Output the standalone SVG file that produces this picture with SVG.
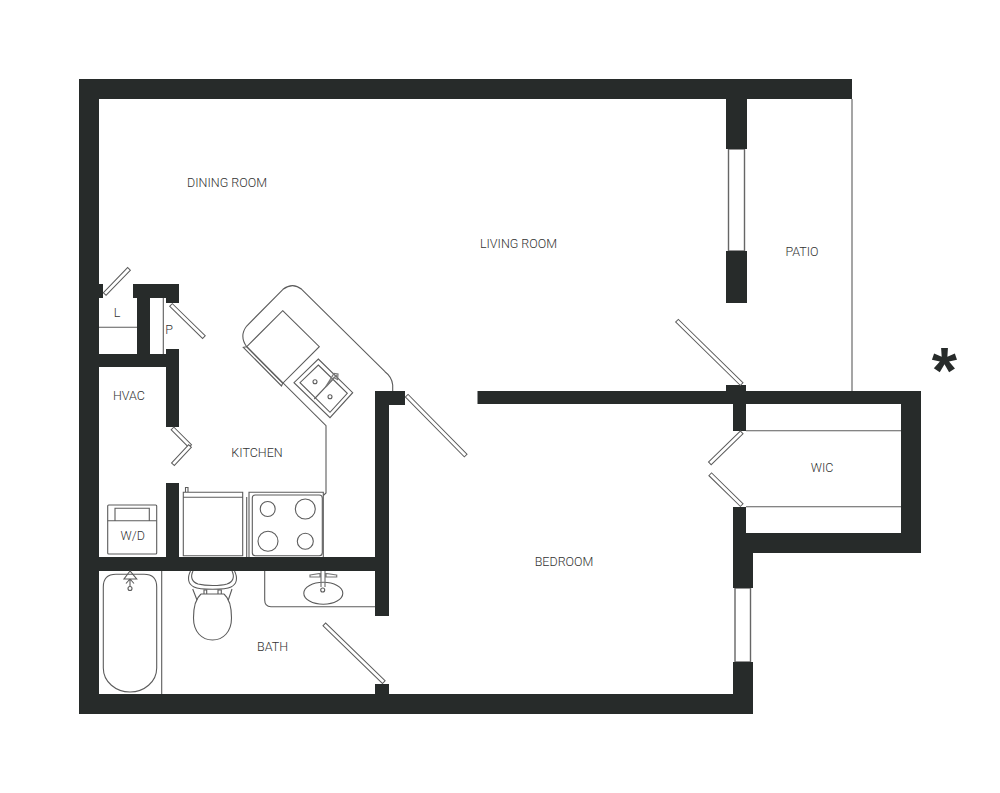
<svg xmlns="http://www.w3.org/2000/svg" width="1000" height="793" viewBox="0 0 1000 793">
<style>
.wall{fill:#272b2a}
.ln{fill:none;stroke:#5c5c5c;stroke-width:1.1}
.ln2{fill:none;stroke:#777;stroke-width:1.2}
.door{fill:#fff;stroke:#5c5c5c;stroke-width:1}
.win{fill:#fff;stroke:#666;stroke-width:1.4}
.lb{font-family:Roboto,"Liberation Sans",sans-serif;font-weight:300;font-size:12.500px;fill:#333;text-anchor:middle}
.ast{font-family:"Liberation Sans",Arial,sans-serif;font-weight:700;font-size:65px;fill:#272b2a;text-anchor:middle}
</style>
<rect width="1000" height="793" fill="#fff"/>
<g id="thin-lines">
<path class="ln" d="M852 99V391M746 430.700H901M746 506.700H901M99 327.300H137M163.300 298V354M161.700 571V694"/>
</g>
<g id="windows">
<rect class="win" x="728.500" y="149" width="16" height="102"/>
<rect class="win" x="735" y="588" width="15.500" height="74"/>
</g>
<g id="walls">
<path class="wall" d="M79 79H852V99H747V149H726V99H99V284H103V298H99V354H137V298H133V284H179V303H166V298H150V354H166V349H179V427H166V367H99V557H166V483H179V557H375V391H405V405H389V616H375V571H99V694H375V684H389V694H733V662H753V714H79Z"/>
<rect class="wall" x="726" y="251" width="21" height="52"/>
<path class="wall" d="M477.500 391H726V385H746V391H921V553H753V588H733V507H746V533H901V404H746V431H733V404H477.500Z"/>
</g>
<g id="doors">
<rect class="door" x="0" y="-1.900" width="35" height="3.800" transform="translate(104.700,294) rotate(-46)"/>
<rect class="door" x="0" y="-1.900" width="46" height="3.800" transform="translate(171,305) rotate(44.300)"/>
<rect class="door" x="0" y="-1.900" width="25" height="3.800" transform="translate(172.500,428.500) rotate(45)"/>
<rect class="door" x="0" y="-1.900" width="25" height="3.800" transform="translate(190,446) rotate(133)"/>
<rect class="door" x="0" y="-1.900" width="84" height="3.800" transform="translate(406.700,395.700) rotate(45.400)"/>
<rect class="door" x="0" y="-1.900" width="90.500" height="3.800" transform="translate(677,320.700) rotate(44.400)"/>
<rect class="door" x="0" y="-1.900" width="44.500" height="3.800" transform="translate(741.700,432.300) rotate(135.700)"/>
<rect class="door" x="0" y="-1.900" width="44" height="3.800" transform="translate(741.700,505) rotate(-135.700)"/>
<rect class="door" x="0" y="-1.900" width="83" height="3.800" transform="translate(324.300,624.300) rotate(44.200)"/>
</g>
<g id="kitchen-fixtures">
<path class="ln" d="M392.700 391V385Q392 377 385 371.700L301.700 289.300Q292.700 282 283 289.300L246.700 326Q239 336 246.700 346.700L326 425.700V493L323.300 495.500"/>
<path class="ln" d="M282.700 310.700L319.300 346.700L282.700 383.300L246.700 346.700Z"/>
<path class="ln" d="M246.700 346.700L243.300 347.300L281.500 386L282.700 383.300"/>
<path class="ln" d="M318.300 359L352.700 392.700L330 417.700L294 382.700Z"/>
<path class="ln" d="M318.300 365L347.300 393.300L330 412.300L300 382.700Z"/>
<path class="ln" d="M332.700 379.300L314.300 399"/>
<circle class="ln" cx="315" cy="381.700" r="2"/>
<circle class="ln" cx="330" cy="396.700" r="2"/>
<path class="ln2" d="M326.700 386L336.700 375M325.500 387L334 377.500L337.500 379.500L338 374L334 373.500Z"/>
<path class="ln" d="M183.300 497.300H242.700V555.700H183.300ZM183.300 497.300V492.300H242.700V497.300M185.500 492V487.500H188V492"/>
<path class="ln" d="M246.700 497V557M249 557V492.300H323.300V557"/>
<rect class="ln" x="252.300" y="495" width="70" height="60.700" rx="3"/>
<circle class="ln" cx="267.700" cy="509" r="7.500"/>
<circle class="ln" cx="305.300" cy="509" r="10"/>
<circle class="ln" cx="268" cy="541.300" r="10"/>
<circle class="ln" cx="305.300" cy="541.300" r="8"/>
</g>
<g id="washer-dryer">
<rect class="ln" x="107.700" y="505" width="49" height="49" rx="1"/>
<path class="ln" d="M107.700 520.700H156.700M115 520.700V508.300H149.300V520.700"/>
</g>
<g id="bath-fixtures">
<path class="ln" d="M116 574.300H144Q156.700 574.300 156.700 587V668C156.700 682 144 692 130 692C116 692 103.300 682 103.300 668V587Q103.300 574.300 116 574.300Z"/>
<path class="ln" d="M130 571L124 579H136.700ZM126 583.500L130 579L134 583.500M130 579V586.500"/>
<circle class="ln" cx="130" cy="588.500" r="2"/>
<path class="ln" d="M190.500 571C187 578 188 584 194 587C200 590 225 590 231 587C237 584 238 578 234.500 571"/>
<path class="ln" d="M193 571C190 577 192 582 198 584C206 586 220 586 227 584C233 582 235 577 232 571"/>
<path class="ln" d="M201 594C194 600 193.500 610 193.500 618C193.500 632 202 640 212.500 640C223 640 231.500 632 231.500 618C231.500 610 231 600 224 594"/>
<path class="ln" d="M192.700 589L197 600M232 589L228.300 600M204 594V590H206.700V594M218 594V590H221.300V594M201 594H224"/>
<path class="ln" d="M264.700 571V600Q264.700 606.700 271 606.700H375"/>
<ellipse class="ln" cx="323.300" cy="593.300" rx="19.500" ry="11"/>
<circle class="ln" cx="322.700" cy="590" r="2"/>
<path class="ln2" d="M310 575L320 573.500V577L310 577ZM336.700 575L326 573.500V577L336.700 577ZM321 571V587M325 571V587"/>
</g>
<g id="labels">
<text class="lb" x="227" y="187">DINING ROOM</text>
<text class="lb" x="518.500" y="248">LIVING ROOM</text>
<text class="lb" x="802" y="255.500">PATIO</text>
<text class="lb" x="117" y="317">L</text>
<text class="lb" x="169" y="333.500">P</text>
<text class="lb" x="129" y="400">HVAC</text>
<text class="lb" x="257" y="456.500">KITCHEN</text>
<text class="lb" x="132.700" y="539.500">W/D</text>
<text class="lb" x="272.500" y="650.500">BATH</text>
<text class="lb" x="822" y="471.500">WIC</text>
<text class="lb" x="564" y="565.500">BEDROOM</text>
<text class="ast" x="944.500" y="393">*</text>
</g>
</svg>
